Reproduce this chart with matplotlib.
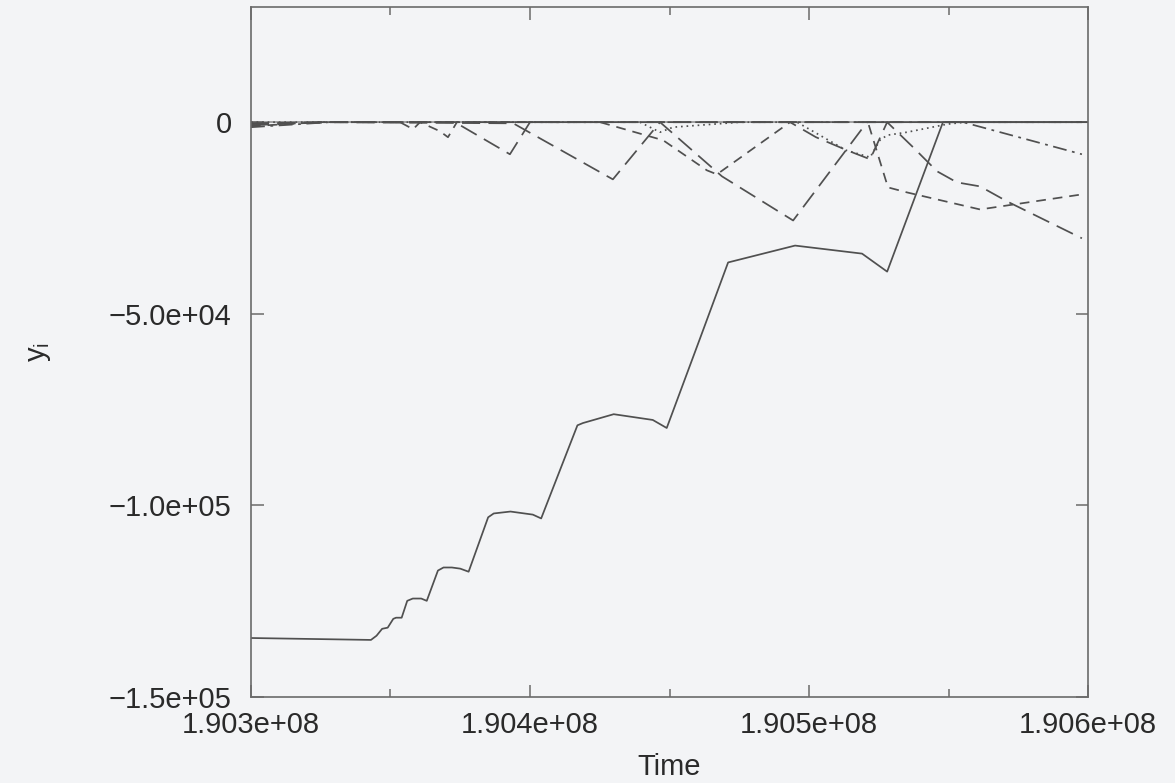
import matplotlib
matplotlib.use("Agg")
import matplotlib.pyplot as plt
from matplotlib.ticker import FixedLocator, FuncFormatter

# Data (time, y_i) for each series
t_solid = [1.90300e8, 1.90343e8, 1.90345e8, 1.90347e8, 1.90349e8, 1.90351e8, 1.90352e8,
           1.90354e8, 1.90356e8, 1.90358e8, 1.90361e8, 1.90363e8, 1.90367e8, 1.90369e8,
           1.90372e8, 1.90375e8, 1.90378e8, 1.90385e8, 1.90387e8, 1.90393e8, 1.90401e8,
           1.90404e8, 1.90417e8, 1.90419e8, 1.90430e8, 1.90444e8, 1.90449e8, 1.90461e8,
           1.90471e8, 1.90495e8, 1.90519e8, 1.90528e8, 1.90548e8, 1.90600e8]
y_solid = [-134600, -135100, -134000, -132200, -131900, -129600, -129300,
           -129300, -124900, -124300, -124300, -124900, -117000, -116200,
           -116200, -116500, -117300, -103100, -102100, -101600, -102400,
           -103400, -79100, -78500, -76200, -77700, -79800, -56300,
           -36600, -32200, -34300, -39000, 0, 0]

# long dash, first series
t_ld1 = [1.90300e8, 1.903283e8, 1.903731e8, 1.903928e8, 1.904000e8, 1.905978e8]
y_ld1 = [-785, 0, 0, -8377, 0, 0]

# long dash, second series (the deep V)
t_ld2 = [1.90300e8, 1.903283e8, 1.903940e8, 1.904297e8, 1.904466e8, 1.904688e8,
         1.904943e8, 1.905208e8, 1.905978e8]
y_ld2 = [-500, 0, -300, -14921, 0, -14136, -25654, 0, 0]

# long dash, third series (ends lowest on the right)
t_ld3 = [1.90300e8, 1.903283e8, 1.904932e8, 1.905025e8, 1.905136e8, 1.905219e8,
         1.905280e8, 1.905373e8, 1.905459e8, 1.905530e8, 1.905613e8, 1.905710e8,
         1.905978e8]
y_ld3 = [-262, 0, 0, -3927, -7330, -9686, 0, -6545, -12827, -15707, -16754,
         -20681, -30300]

# short dash
t_sd = [1.90300e8, 1.903247e8, 1.903534e8, 1.903581e8, 1.903606e8, 1.903677e8,
        1.903706e8, 1.903738e8, 1.904251e8, 1.904477e8, 1.904634e8, 1.904670e8,
        1.904932e8, 1.905211e8, 1.905283e8, 1.905351e8, 1.905613e8, 1.905978e8]
y_sd = [-1047, 0, 0, -1833, 0, -2356, -3927, 0, 0, -4712, -12566, -13613,
        0, 0, -17016, -18325, -22775, -18848]

# dotted
t_dot = [1.90300e8, 1.904394e8, 1.904466e8, 1.904513e8, 1.904753e8, 1.904957e8,
         1.905133e8, 1.905219e8, 1.905254e8, 1.905280e8, 1.905351e8, 1.905495e8,
         1.905559e8, 1.905978e8]
y_dot = [0, 0, -2618, -1309, 0, 0, -7330, -9162, -4712, -3403, -2618, -524, 0, 0]

# dash-dot
t_dd = [1.90300e8, 1.903283e8, 1.905552e8, 1.905978e8]
y_dd = [-1309, 0, 0, -8377]

x_ticks = [1.903e8, 1.904e8, 1.905e8, 1.906e8]
x_minor = [1.9035e8, 1.9045e8, 1.9055e8]
y_ticks = [-1.5e5, -1.0e5, -5.0e4, 0]
y_labels = ["\u22121.5e+05", "\u22121.0e+05", "\u22125.0e+04", "0"]

bg = "#f3f4f6"
ink = "#505050"
plt.rcParams['font.family'] = ['Liberation Sans', 'DejaVu Sans']
plt.rcParams['lines.scale_dashes'] = False

fig = plt.figure(figsize=(11.75, 7.83), dpi=100, facecolor=bg)
ax = fig.add_axes([0.2136, 0.1098, 0.7124, 0.881], facecolor=bg)

# zero axis
ax.axhline(0, color="#8a8a8a", lw=1.1, zorder=1)

lw = 1.25
ax.plot(t_solid, y_solid, color=ink, lw=lw)
ax.plot(t_ld1, y_ld1, color=ink, lw=lw, dashes=(13, 6))
ax.plot(t_ld2, y_ld2, color=ink, lw=lw, dashes=(13, 6))
ax.plot(t_ld3, y_ld3, color=ink, lw=lw, dashes=(13, 6))
ax.plot(t_sd, y_sd, color=ink, lw=lw, dashes=(7, 5))
ax.plot(t_dot, y_dot, color=ink, lw=lw, dashes=(1.2, 2.8))
ax.plot(t_dd, y_dd, color=ink, lw=lw, dashes=(10, 4, 2, 4))

ax.set_xlim(1.903e8, 1.906e8)
ax.set_ylim(-1.5e5, 3.0e4)

# ticks, gnuplot style (inside, mirrored)
ax.xaxis.set_major_locator(FixedLocator(x_ticks))
ax.xaxis.set_minor_locator(FixedLocator(x_minor))
ax.xaxis.set_major_formatter(FuncFormatter(lambda v, p: "%.3fe+08" % (v / 1e8)))
ax.set_yticks(y_ticks)
ax.set_yticklabels(y_labels)
ax.tick_params(axis="both", which="both", direction="in", top=True, right=True,
               color="#6a6a6a", labelsize=21, labelcolor="#2a2a2a")
ax.tick_params(axis="both", which="major", length=9, width=1.1)
ax.tick_params(axis="both", which="minor", length=6, width=1.1)
ax.tick_params(axis="x", pad=10)
ax.tick_params(axis="y", pad=14)

for s in ax.spines.values():
    s.set_color("#6a6a6a")
    s.set_linewidth(1.2)

ax.set_xlabel("Time", fontsize=21, color="#2a2a2a", labelpad=10)
ax.set_ylabel("y$_\\mathregular{i}$", fontsize=21, color="#2a2a2a", labelpad=40)

fig.savefig("out.png", dpi=100, facecolor=bg)
